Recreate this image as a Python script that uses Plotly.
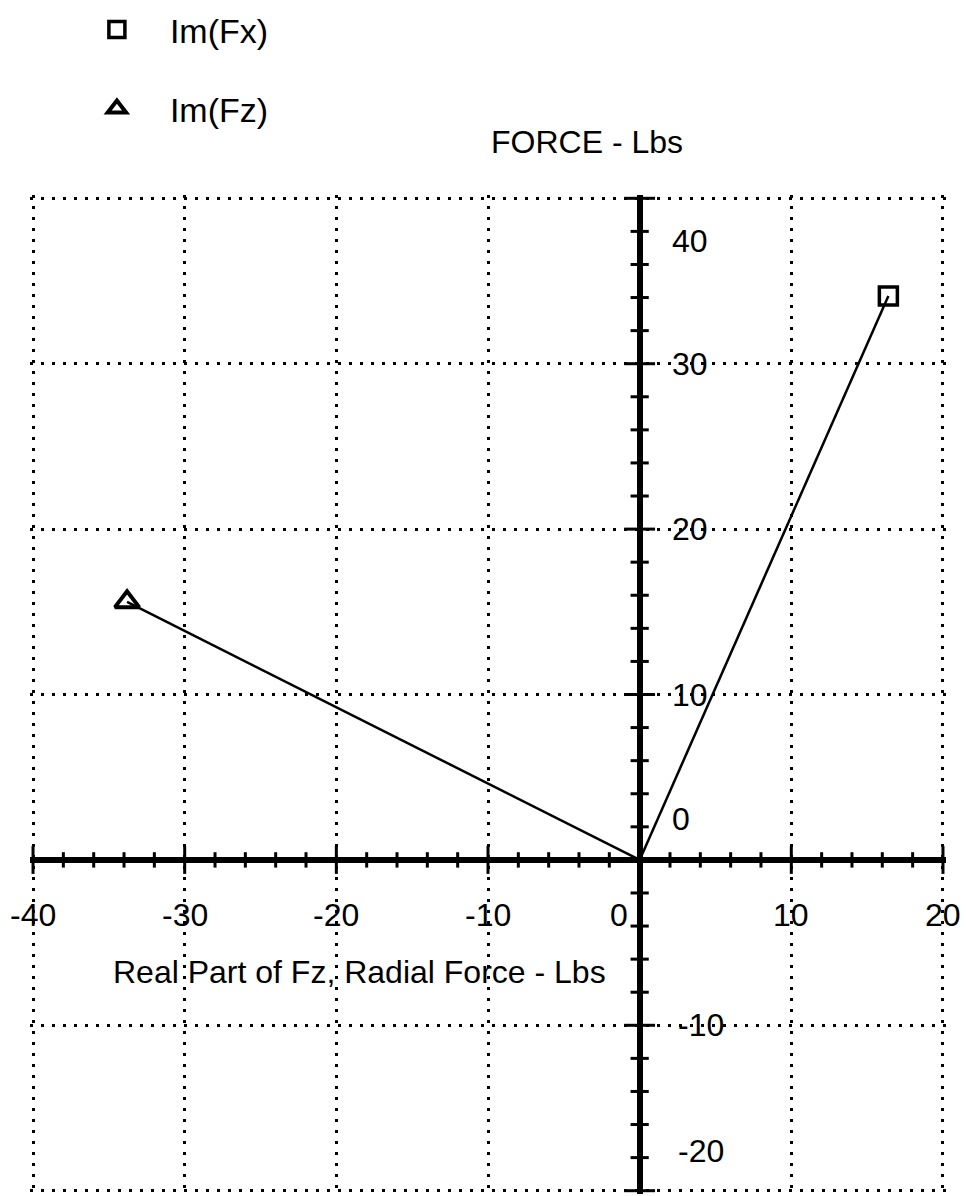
import plotly.graph_objects as go

# ---- data ----
series_names = ["Im(Fx)", "Im(Fz)"]
real_parts = [16.4, -33.8]
imag_parts = [34.1, 15.6]
series_symbols = ["square-open", "triangle-up-open"]

x_tick_values = [-40, -30, -20, -10, 0, 10, 20]
x_tick_labels = ["-40", "-30", "-20", "-10", "0", "10", "20"]
y_tick_values = [-20, -10, 0, 10, 20, 30, 40]
y_tick_labels = ["-20", "-10", "0", "10", "20", "30", "40"]
minor_step = 2

title_text = "FORCE - Lbs"
x_axis_text = "Real Part of Fz, Radial Force - Lbs"

# ---- styling ----
FONT = "Liberation Sans, Arial, Helvetica, sans-serif"
FS = 32
x_min, x_max = x_tick_values[0], x_tick_values[-1]
y_min, y_max = y_tick_values[0], y_tick_values[-1]
pad_x, pad_y = 0.2, 0.2

fig = go.Figure()

# lines from origin to each point
for name, re_, im_ in zip(series_names, real_parts, imag_parts):
    fig.add_trace(go.Scatter(x=[0, re_], y=[0, im_], mode="lines",
                             line=dict(color="black", width=2.5),
                             showlegend=False, hoverinfo="skip"))

# markers (also legend entries)
for i, (name, re_, im_, sym) in enumerate(zip(series_names, real_parts, imag_parts, series_symbols)):
    fig.add_trace(go.Scatter(x=[re_], y=[im_], mode="markers", name=name,
                             marker=dict(symbol=sym, size=18 if i == 0 else 21, color="black",
                                         line=dict(color="black", width=3.5 if i == 0 else 4)),
                             legend="legend" if i == 0 else "legend2"))

# axis tick marks on the zero lines
x_minor = [v for v in range(x_min, x_max + 1, minor_step) if v != 0 and v % 10 != 0]
x_major = [v for v in x_tick_values if v != 0]
y_minor = [v for v in range(y_min, y_max + 1, minor_step) if v != 0 and v % 10 != 0]
y_major = [v for v in y_tick_values if v != 0]

fig.add_trace(go.Scatter(x=x_minor, y=[0] * len(x_minor), mode="markers", showlegend=False,
                         hoverinfo="skip",
                         marker=dict(symbol="line-ns", size=11, line=dict(color="black", width=3))))
fig.add_trace(go.Scatter(x=x_major, y=[0] * len(x_major), mode="markers", showlegend=False,
                         hoverinfo="skip",
                         marker=dict(symbol="line-ns", size=20, line=dict(color="black", width=3))))
fig.add_trace(go.Scatter(x=[0] * len(y_minor), y=y_minor, mode="markers", showlegend=False,
                         hoverinfo="skip",
                         marker=dict(symbol="line-ew", size=13, line=dict(color="black", width=3))))
fig.add_trace(go.Scatter(x=[0] * len(y_major), y=y_major, mode="markers", showlegend=False,
                         hoverinfo="skip",
                         marker=dict(symbol="line-ew", size=22, line=dict(color="black", width=3))))

annotations = []
# x tick labels (below the horizontal axis)
x_label_shift = {0: -1.35}
for v, t in zip(x_tick_values, x_tick_labels):
    annotations.append(dict(x=v + x_label_shift.get(v, 0), y=-3.35, xref="x", yref="y",
                            text=t, showarrow=False, xanchor="center", yanchor="middle",
                            font=dict(family=FONT, size=FS, color="black")))
# y tick labels (right of the vertical axis)
y_label_shift = {40: -2.6, 0: 2.5, -20: 2.4}
for v, t in zip(y_tick_values, y_tick_labels):
    annotations.append(dict(x=2.0 if v >= 0 else 2.4, y=v + y_label_shift.get(v, 0), xref="x", yref="y",
                            text=t, showarrow=False, xanchor="left", yanchor="middle",
                            font=dict(family=FONT, size=FS, color="black")))
# chart title (above plot area -> paper y)
annotations.append(dict(x=-3.5, y=1.053, xref="x", yref="paper", text=title_text, showarrow=False,
                        xanchor="center", yanchor="middle",
                        font=dict(family=FONT, size=FS, color="black")))
annotations.append(dict(x=-2.1, y=-6.8, xref="x", yref="y", text=x_axis_text, showarrow=False,
                        xanchor="right", yanchor="middle",
                        font=dict(family=FONT, size=FS, color="black")))

grid = dict(showgrid=True, gridcolor="black", gridwidth=3, griddash="3px,8px",
            zeroline=True, zerolinecolor="black", zerolinewidth=6,
            showticklabels=False, ticks="", showline=False, tickmode="array")

legend_style = dict(xanchor="left", yanchor="top", bgcolor="rgba(0,0,0,0)", itemwidth=96,
                    font=dict(family=FONT, size=34, color="black"))

fig.update_layout(
    width=966, height=1196,
    margin=dict(l=30, r=20, t=194, b=2, pad=0),
    paper_bgcolor="white", plot_bgcolor="white",
    xaxis=dict(range=[x_min - pad_x, x_max + pad_x], tickvals=x_tick_values, **grid),
    yaxis=dict(range=[y_min - pad_y, y_max + pad_y], tickvals=y_tick_values, **grid),
    annotations=annotations,
    legend=dict(x=0.037, y=1.193, **legend_style),
    legend2=dict(x=0.037, y=1.114, **legend_style),
    font=dict(family=FONT, size=FS, color="black"),
)

fig.write_html("out.html")
